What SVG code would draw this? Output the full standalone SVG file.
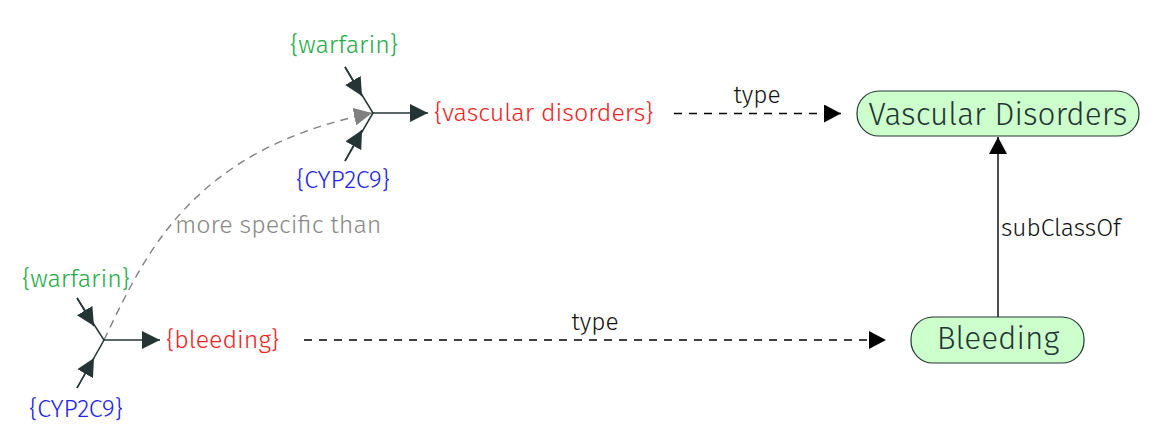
<svg xmlns="http://www.w3.org/2000/svg" width="1174" height="435" viewBox="0 0 1174 435">
<style>
text{font-family:"Fira Sans",Lato,"Open Sans",sans-serif;font-weight:300}
.lbl{font-size:25px}
.g{fill:#22aa44}.r{fill:#ee2222}.b{fill:#2222ee}
.ln{stroke:#253535;stroke-width:1.5;fill:none}
.dash{stroke:#000;stroke-width:1.4;fill:none;stroke-dasharray:8 7}
.node rect{fill:#ccffcc;stroke:#253535;stroke-width:1.2}
.node text{font-size:31.5px;fill:#253535;text-anchor:middle}
.el{font-size:24.5px;fill:#111}
</style>
<defs>
<marker id="tri" viewBox="0 0 18 18" refX="18" refY="9" markerWidth="18" markerHeight="18" markerUnits="userSpaceOnUse" orient="auto"><path d="M0,0 L18,9 L0,18 Z" fill="#253535"/></marker>
<marker id="blk" viewBox="0 0 17 18" refX="17" refY="9" markerWidth="17" markerHeight="18" markerUnits="userSpaceOnUse" orient="auto"><path d="M0,0 L17,9 L0,18 Z" fill="#000"/></marker>
<marker id="gry" viewBox="0 0 18 18" refX="18" refY="9" markerWidth="18" markerHeight="18" markerUnits="userSpaceOnUse" orient="auto"><path d="M0,0 L18,9 L0,18 Z" fill="#808080"/></marker>
</defs>
<g id="connectors">
<path class="dash" d="M674,113.5 L841,113.5" marker-end="url(#blk)"/>
<path class="dash" d="M304,340 L886,340" marker-end="url(#blk)"/>
<path d="M998,317 L998,137" stroke="#000" stroke-width="1.4" fill="none" marker-end="url(#blk)"/>
<path d="M104,340 C145,255 190,150 372,113" stroke="#808080" stroke-width="1.4" fill="none" stroke-dasharray="8 6" marker-end="url(#gry)"/>
<text class="el" x="757" y="103" text-anchor="middle">type</text>
<text class="el" x="595" y="330" text-anchor="middle">type</text>
<text class="el" x="1001" y="236">subClassOf</text>
<text x="175" y="233" font-size="25" fill="#888">more specific than</text>
</g>
<g id="stmt-top">
<path class="ln" d="M345,67 L373,113 L345,161"/>
<path class="ln" d="M373,113 L428,113" marker-end="url(#tri)"/>
<path class="ln" d="M345,67 L362,96" marker-end="url(#tri)"/>
<path class="ln" d="M345,161 L362,130" marker-end="url(#tri)"/>
<text class="lbl g" x="344" y="53" text-anchor="middle">{warfarin}</text>
<text class="lbl r" x="434" y="121">{vascular disorders}</text>
<text class="lbl b" x="343" y="188" text-anchor="middle">{CYP2C9}</text>
</g>
<g id="stmt-bottom">
<path class="ln" d="M77,298 L104,340 L77,388"/>
<path class="ln" d="M104,340 L160,340" marker-end="url(#tri)"/>
<path class="ln" d="M77,298 L94,326" marker-end="url(#tri)"/>
<path class="ln" d="M77,388 L94,358" marker-end="url(#tri)"/>
<text class="lbl g" x="76" y="287" text-anchor="middle">{warfarin}</text>
<text class="lbl r" x="166" y="348">{bleeding}</text>
<text class="lbl b" x="76" y="417" text-anchor="middle">{CYP2C9}</text>
</g>
<g id="vascular-disorders" class="node">
<rect x="857" y="91" width="282" height="45" rx="22" ry="22"/>
<text x="998" y="125">Vascular Disorders</text>
</g>
<g id="bleeding" class="node">
<rect x="911" y="317" width="173" height="46" rx="22" ry="22"/>
<text x="998" y="349">Bleeding</text>
</g>
</svg>
